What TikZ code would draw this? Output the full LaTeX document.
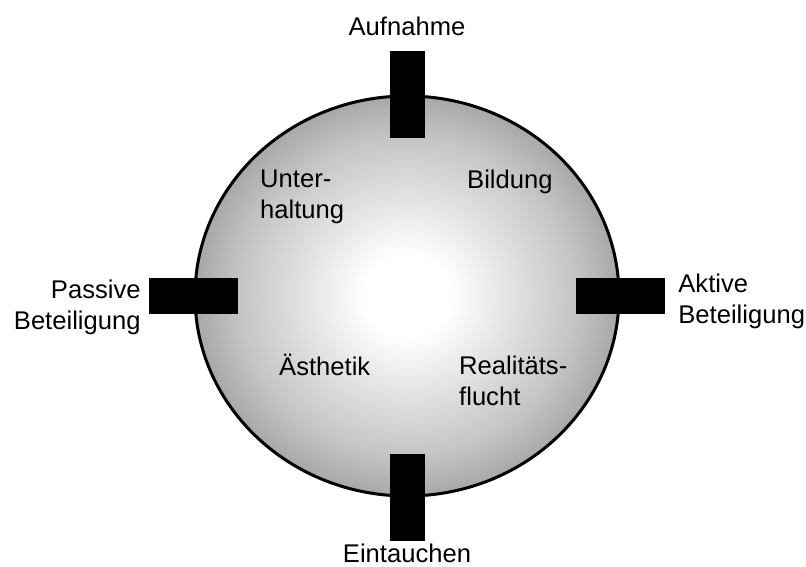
\documentclass[tikz,border=0pt]{standalone}
\usepackage{fontspec}
\setmainfont{Liberation Sans}
\usetikzlibrary{positioning,shapes.geometric}
\definecolor{RimGray}{RGB}{112,112,112}
\definecolor{MidGray}{RGB}{196,196,196}
\pgfdeclareradialshading{globe}{\pgfpoint{0bp}{0bp}}{color(0bp)=(white); color(5bp)=(white); color(20bp)=(MidGray); color(35bp)=(RimGray); color(50bp)=(RimGray)}
\tikzset{
  disc/.style={ellipse,draw=black,line width=3pt,shading=globe,
    minimum width=424pt,minimum height=400pt,inner sep=0pt},
  hbar/.style={fill=black,minimum width=89pt,minimum height=36pt,inner sep=0pt},
  vbar/.style={fill=black,minimum width=35pt,minimum height=87pt,inner sep=0pt},
  txt/.style={inner sep=0pt,font=\fontsize{25.6}{31}\selectfont}
}

\begin{document}
\begin{tikzpicture}[x=1pt,y=-1pt]
  \useasboundingbox (0,0) rectangle (806,567);
  \node[disc] (wheel) at (407,296) {};
  % bars on the rim
  \node[vbar] (topbar) at (wheel.north) {};
  \node[vbar] (bottombar) at (wheel.south) {};
  \node[hbar] (leftbar) at (wheel.west) {};
  \node[hbar] (rightbar) at (wheel.east) {};
  % axis labels
  \node[txt,above=15pt of topbar] (aufnahme) {Aufnahme};
  \node[txt,below=3pt of bottombar] (eintauchen) {Eintauchen};
  \node[txt,align=right,left=8pt of leftbar,yshift=-11pt] (passiv) {Passive\\Beteiligung};
  \node[txt,align=left,right=13pt of rightbar,yshift=-5pt] (aktiv) {Aktive\\Beteiligung};
  % quadrants
  \node[txt,align=left,anchor=base west] (unterhaltung) at (260,218) {Unter-\\haltung};
  \node[txt,anchor=base west] (bildung) at (467,188) {Bildung};
  \node[txt,anchor=base west] (aesthetik) at (279,375) {Ästhetik};
  \node[txt,align=left,anchor=base west] (flucht) at (459,405) {Realitäts-\\flucht};
\end{tikzpicture}
\end{document}
